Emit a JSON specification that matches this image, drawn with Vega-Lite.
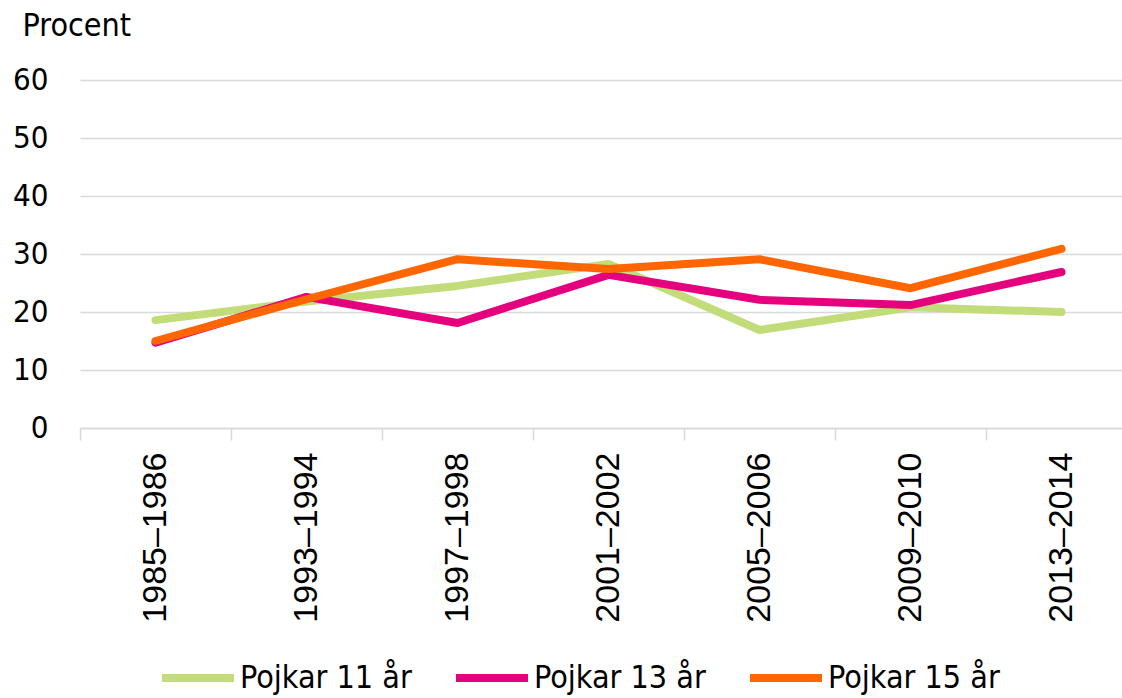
{
  "$schema": "https://vega.github.io/schema/vega-lite/v6.json",
  "width": 1042,
  "height": 348,
  "autosize": "none",
  "padding": {"left": 80, "top": 80, "right": 0, "bottom": 270},
  "background": "white",
  "config": {"view": {"stroke": null}},
  "data": {
    "values": [
      {"period": "1985–1986", "group": "Pojkar 11 år", "value": 18.6},
      {"period": "1993–1994", "group": "Pojkar 11 år", "value": 21.8},
      {"period": "1997–1998", "group": "Pojkar 11 år", "value": 24.5},
      {"period": "2001–2002", "group": "Pojkar 11 år", "value": 28.3},
      {"period": "2005–2006", "group": "Pojkar 11 år", "value": 16.9},
      {"period": "2009–2010", "group": "Pojkar 11 år", "value": 20.8},
      {"period": "2013–2014", "group": "Pojkar 11 år", "value": 20.0},
      {"period": "1985–1986", "group": "Pojkar 13 år", "value": 14.7},
      {"period": "1993–1994", "group": "Pojkar 13 år", "value": 22.6},
      {"period": "1997–1998", "group": "Pojkar 13 år", "value": 18.1},
      {"period": "2001–2002", "group": "Pojkar 13 år", "value": 26.4},
      {"period": "2005–2006", "group": "Pojkar 13 år", "value": 22.1},
      {"period": "2009–2010", "group": "Pojkar 13 år", "value": 21.2},
      {"period": "2013–2014", "group": "Pojkar 13 år", "value": 26.9},
      {"period": "1985–1986", "group": "Pojkar 15 år", "value": 15.0},
      {"period": "1993–1994", "group": "Pojkar 15 år", "value": 22.2},
      {"period": "1997–1998", "group": "Pojkar 15 år", "value": 29.1},
      {"period": "2001–2002", "group": "Pojkar 15 år", "value": 27.4},
      {"period": "2005–2006", "group": "Pojkar 15 år", "value": 29.1},
      {"period": "2009–2010", "group": "Pojkar 15 år", "value": 24.1},
      {"period": "2013–2014", "group": "Pojkar 15 år", "value": 30.9}
    ]
  },
  "mark": {"type": "line", "strokeWidth": 8, "strokeCap": "round", "strokeJoin": "round"},
  "encoding": {
    "x": {
      "field": "period",
      "type": "ordinal",
      "sort": null,
      "bandPosition": 0.5,
      "scale": {"type": "band", "range": [0, 1057], "paddingInner": 0, "paddingOuter": 0},
      "axis": {
        "title": null,
        "grid": false,
        "tickBand": "extent",
        "domainColor": "#d9d9d9",
        "domainWidth": 1.5,
        "tickColor": "#d9d9d9",
        "tickWidth": 1.5,
        "tickSize": 12,
        "labelAngle": -90,
        "labelAlign": "right",
        "labelBaseline": "middle",
        "labelFont": "Liberation Sans",
        "labelFontSize": 34,
        "labelColor": "#000000",
        "labelPadding": 12
      }
    },
    "y": {
      "field": "value",
      "type": "quantitative",
      "scale": {"domain": [0, 60], "nice": false, "zero": true},
      "axis": {
        "values": [0, 10, 20, 30, 40, 50, 60],
        "domain": false,
        "ticks": false,
        "grid": true,
        "gridColor": "#d9d9d9",
        "gridWidth": 1.5,
        "labelFont": "'DejaVu Sans Condensed', 'DejaVu Sans', sans-serif",
        "labelFontSize": 31,
        "labelColor": "#000000",
        "labelPadding": 32,
        "title": "Procent",
        "titleAngle": 0,
        "titleAlign": "left",
        "titleBaseline": "alphabetic",
        "titleX": -58,
        "titleY": -45,
        "titleFont": "'DejaVu Sans Condensed', 'DejaVu Sans', sans-serif",
        "titleFontSize": 32,
        "titleFontWeight": "normal",
        "titleColor": "#000000"
      }
    },
    "color": {
      "field": "group",
      "type": "nominal",
      "scale": {
        "domain": ["Pojkar 11 år", "Pojkar 13 år", "Pojkar 15 år"],
        "range": ["#c2dc7a", "#e5007e", "#ff6600"]
      },
      "legend": {
        "title": null,
        "orient": "none",
        "direction": "horizontal",
        "legendX": 78,
        "legendY": 558,
        "symbolType": "stroke",
        "symbolSize": 5184,
        "symbolStrokeWidth": 8,
        "labelOffset": 2,
        "columnPadding": 28,
        "labelFont": "'DejaVu Sans Condensed', 'DejaVu Sans', sans-serif",
        "labelFontSize": 32,
        "labelColor": "#000000",
        "labelLimit": 400
      }
    }
  }
}
